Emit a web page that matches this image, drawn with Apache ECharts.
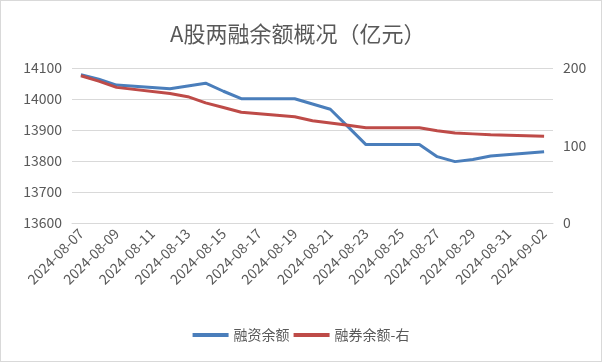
<!DOCTYPE html>
<html>
<head>
<meta charset="utf-8">
<script src="https://cdn.jsdelivr.net/npm/echarts@6/dist/echarts.min.js"></script>
<style>
html,body{margin:0;padding:0;background:#fff;}
#c{width:602px;height:362px;box-sizing:border-box;border:1px solid #d9d9d9;}
</style>
</head>
<body>
<div id="c"></div>
<script>
const categories = [
  '2024-08-07','2024-08-08','2024-08-09','2024-08-10','2024-08-11','2024-08-12','2024-08-13',
  '2024-08-14','2024-08-15','2024-08-16','2024-08-17','2024-08-18','2024-08-19','2024-08-20',
  '2024-08-21','2024-08-22','2024-08-23','2024-08-24','2024-08-25','2024-08-26','2024-08-27',
  '2024-08-28','2024-08-29','2024-08-30','2024-08-31','2024-09-01','2024-09-02'
];
// 融资余额 (left axis), null = non-trading day
const financing = [
  14078, 14064, 14045, null, null, 14033, 14042,
  14051, 14025, 14001, null, null, 14001, 13984,
  13967, 13910, 13853, null, null, 13853, 13814,
  13798, 13805, 13816, null, null, 13830
];
// 融券余额 (right axis)
const lending = [
  190, 183, 175, null, null, 167, 163,
  155, 149, 143, null, null, 137, 132,
  129, 126, 123, null, null, 123, 119,
  116, 115, 114, null, null, 112
];
const leftTicks = { min: 13600, max: 14100, interval: 100 };
const rightTicks = { min: 0, max: 200, interval: 100 };

const FONT = '"Noto Sans CJK SC", "Noto Sans", sans-serif';
const chart = echarts.init(document.getElementById('c'), null, { renderer: 'canvas' });
chart.setOption({
  animation: false,
  textStyle: { fontFamily: FONT },
  title: {
    text: 'A股两融余额概况（亿元）',
    left: 164,
    top: 17,
    textStyle: { color: '#595959', fontSize: 22, fontWeight: 'normal', fontFamily: FONT }
  },
  legend: {
    bottom: 14,
    left: 'center',
    icon: 'rect',
    itemWidth: 36,
    itemHeight: 4,
    itemGap: 4,
    textStyle: { color: '#595959', fontSize: 14, fontFamily: FONT },
    data: ['融资余额', '融券余额-右']
  },
  grid: { left: 71, right: 48, top: 67, bottom: 138, containLabel: false },
  xAxis: {
    type: 'category',
    data: categories,
    boundaryGap: true,
    axisLine: { lineStyle: { color: '#d9d9d9', width: 1 } },
    axisTick: { interval: 1, length: 5, lineStyle: { color: '#d9d9d9' } },
    axisLabel: { interval: 1, rotate: 45, color: '#595959', fontSize: 14, margin: 8, fontFamily: FONT },
    splitLine: { show: false }
  },
  yAxis: [
    {
      type: 'value',
      min: leftTicks.min, max: leftTicks.max, interval: leftTicks.interval,
      axisLine: { show: false },
      axisTick: { show: false },
      axisLabel: { color: '#595959', fontSize: 14, margin: 10, fontFamily: FONT, formatter: v => String(v) },
      splitLine: { lineStyle: { color: '#d9d9d9', width: 1 } }
    },
    {
      type: 'value',
      min: rightTicks.min, max: rightTicks.max, interval: rightTicks.interval,
      axisLine: { show: false },
      axisTick: { show: false },
      axisLabel: { color: '#595959', fontSize: 14, margin: 10, fontFamily: FONT, formatter: v => String(v) },
      splitLine: { show: false }
    }
  ],
  series: [
    {
      name: '融资余额', type: 'line', yAxisIndex: 0, data: financing,
      connectNulls: true, showSymbol: false, symbol: 'none',
      lineStyle: { color: '#4A7EBB', width: 3 }, itemStyle: { color: '#4A7EBB' }
    },
    {
      name: '融券余额-右', type: 'line', yAxisIndex: 1, data: lending,
      connectNulls: true, showSymbol: false, symbol: 'none',
      lineStyle: { color: '#BE4B48', width: 3 }, itemStyle: { color: '#BE4B48' }
    }
  ]
});
</script>
</body>
</html>
